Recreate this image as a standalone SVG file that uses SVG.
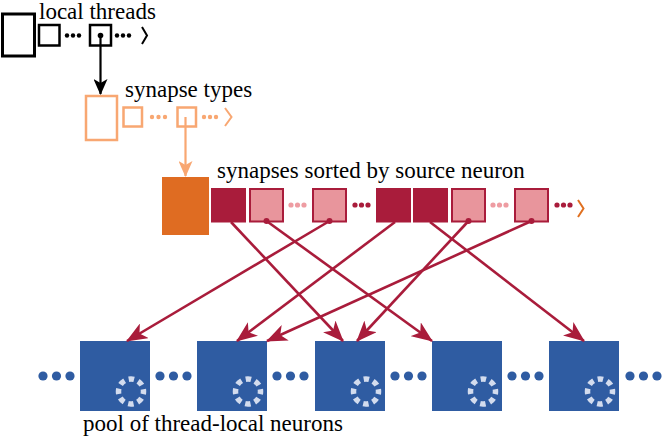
<svg xmlns="http://www.w3.org/2000/svg" width="662" height="440" viewBox="0 0 662 440">
<style>
  .blk { fill: #fff; stroke: #000; stroke-width: 2.5; }
  .org { fill: #fff; stroke: #F8A772; stroke-width: 2.5; }
  .dark { fill: #A91C3B; }
  .pink { fill: #E8959C; stroke: #A91C3B; stroke-width: 2; }
  .neuron { fill: #2F5CA2; }
  .ring { fill: none; stroke: #D3DCEE; stroke-width: 5.5; stroke-dasharray: 5.5 4.32; stroke-dashoffset: 2.75; }
  .bdot { fill: #2F5CA2; }
  .conn { stroke: #A91C3B; stroke-width: 2.6; fill: none; }
</style>
<defs>
  <marker id="ah" viewBox="0 0 21 17" markerWidth="21" markerHeight="17" refX="20" refY="8.5" orient="auto" markerUnits="userSpaceOnUse">
    <path d="M0,0 L21,8.5 L0,17 L5.5,8.5 z" fill="#A91C3B"/>
  </marker>
  <marker id="ahk" viewBox="0 0 16 14" markerWidth="16" markerHeight="14" refX="15" refY="7" orient="auto" markerUnits="userSpaceOnUse">
    <path d="M0,0 L16,7 L0,14 L4,7 z" fill="#000"/>
  </marker>
  <marker id="aho" viewBox="0 0 16 14" markerWidth="16" markerHeight="14" refX="15" refY="7" orient="auto" markerUnits="userSpaceOnUse">
    <path d="M0,0 L16,7 L0,14 L4,7 z" fill="#F8A772"/>
  </marker>
</defs>

<g font-family="Liberation Serif, DejaVu Serif, serif" font-size="23" fill="#000">
<g id="local-threads">
  <text x="39" y="19">local threads</text>
  <rect x="2.5" y="14" width="32" height="42" fill="#fff" stroke="#000" stroke-width="3"/>
  <rect class="blk" x="39" y="25" width="20.5" height="20.5"/>
  <circle cx="67" cy="35.5" r="2.2"/><circle cx="73" cy="35.5" r="2.2"/><circle cx="79" cy="35.5" r="2.2"/>
  <rect class="blk" x="90" y="25" width="21" height="20.5"/>
  <circle cx="100.5" cy="35.5" r="2.8"/>
  <circle cx="117" cy="35.5" r="2.2"/><circle cx="123" cy="35.5" r="2.2"/><circle cx="129" cy="35.5" r="2.2"/>
  <polyline points="142,27 147,35.5 142,44" fill="none" stroke="#000" stroke-width="2"/>
</g>

<g id="synapse-types">
  <text x="125" y="97">synapse types</text>
  <rect class="org" x="86" y="96" width="31" height="44"/>
  <rect class="org" x="123.5" y="107.5" width="18.5" height="19"/>
  <g fill="#F8A772">
    <circle cx="152" cy="117" r="2.2"/><circle cx="158.5" cy="117" r="2.2"/><circle cx="165" cy="117" r="2.2"/>
    <circle cx="185.5" cy="117" r="2.8"/>
    <circle cx="204" cy="117" r="2.2"/><circle cx="210" cy="117" r="2.2"/><circle cx="216" cy="117" r="2.2"/>
  </g>
  <rect class="org" x="177.5" y="107.5" width="18.5" height="19"/>
  <polyline points="225,108 231.5,117 225,126" fill="none" stroke="#F8A772" stroke-width="2"/>
</g>

<g id="synapses">
  <text x="217" y="178">synapses sorted by source neuron</text>
  <rect x="162" y="177" width="47" height="58" fill="#DF6C22"/>
  <rect class="dark" x="211" y="188" width="35" height="34.5"/>
  <rect class="pink" x="250" y="189" width="33" height="32.5"/>
  <g fill="#EE9CA2">
    <circle cx="291" cy="205" r="2.6"/><circle cx="297.5" cy="205" r="2.6"/><circle cx="304" cy="205" r="2.6"/>
    <circle cx="493" cy="205" r="2.6"/><circle cx="499.5" cy="205" r="2.6"/><circle cx="506" cy="205" r="2.6"/>
  </g>
  <rect class="pink" x="313" y="189" width="33" height="32.5"/>
  <g fill="#A91C3B">
    <circle cx="355" cy="205" r="2.6"/><circle cx="361.5" cy="205" r="2.6"/><circle cx="368" cy="205" r="2.6"/>
    <circle cx="557" cy="205" r="2.6"/><circle cx="563.5" cy="205" r="2.6"/><circle cx="570" cy="205" r="2.6"/>
  </g>
  <rect class="dark" x="376" y="188" width="35" height="34.5"/>
  <rect class="dark" x="413" y="188" width="35" height="34.5"/>
  <rect class="pink" x="452" y="189" width="33" height="32.5"/>
  <rect class="pink" x="515" y="189" width="33" height="32.5"/>
  <polyline points="578,200 583.5,208.5 578,217" fill="none" stroke="#E07020" stroke-width="2"/>
  <g fill="#A91C3B">
    <circle cx="266.5" cy="221" r="3"/><circle cx="329.5" cy="221" r="3"/>
    <circle cx="468.5" cy="221" r="3"/><circle cx="531.5" cy="221" r="3"/>
  </g>
</g>

<g id="neurons">
  <g class="bdot">
    <circle cx="43" cy="376" r="4.6"/><circle cx="56.5" cy="376" r="4.6"/><circle cx="70" cy="376" r="4.6"/>
    <circle cx="160" cy="376" r="4.6"/><circle cx="173.5" cy="376" r="4.6"/><circle cx="187" cy="376" r="4.6"/>
    <circle cx="277" cy="376" r="4.6"/><circle cx="290.5" cy="376" r="4.6"/><circle cx="304" cy="376" r="4.6"/>
    <circle cx="395" cy="376" r="4.6"/><circle cx="408.5" cy="376" r="4.6"/><circle cx="422" cy="376" r="4.6"/>
    <circle cx="512" cy="376" r="4.6"/><circle cx="525.5" cy="376" r="4.6"/><circle cx="539" cy="376" r="4.6"/>
    <circle cx="630" cy="376" r="4.6"/><circle cx="643.5" cy="376" r="4.6"/><circle cx="657" cy="376" r="4.6"/>
  </g>
  <g id="n1"><rect class="neuron" x="80" y="341" width="70" height="70"/><circle class="ring" cx="131" cy="391.5" r="12.5"/></g>
  <g id="n2"><rect class="neuron" x="197" y="341" width="70" height="70"/><circle class="ring" cx="248" cy="391.5" r="12.5"/></g>
  <g id="n3"><rect class="neuron" x="315" y="341" width="70" height="70"/><circle class="ring" cx="366" cy="391.5" r="12.5"/></g>
  <g id="n4"><rect class="neuron" x="432" y="341" width="70" height="70"/><circle class="ring" cx="483" cy="391.5" r="12.5"/></g>
  <g id="n5"><rect class="neuron" x="549" y="341" width="70" height="70"/><circle class="ring" cx="600" cy="391.5" r="12.5"/></g>
  <text x="83" y="431">pool of thread-local neurons</text>
</g>
</g>

<g id="connectors">
  <line x1="100.5" y1="35.5" x2="100.5" y2="94" stroke="#000" stroke-width="2.2" marker-end="url(#ahk)"/>
  <line x1="185.5" y1="117" x2="185.5" y2="176" stroke="#F8A772" stroke-width="2.2" marker-end="url(#aho)"/>
  <line class="conn" x1="231" y1="222" x2="343" y2="341" marker-end="url(#ah)"/>
  <line class="conn" x1="266.5" y1="221" x2="432" y2="341" marker-end="url(#ah)"/>
  <line class="conn" x1="329.5" y1="221" x2="127" y2="341" marker-end="url(#ah)"/>
  <line class="conn" x1="395" y1="222" x2="237" y2="341" marker-end="url(#ah)"/>
  <line class="conn" x1="430" y1="222" x2="584" y2="341" marker-end="url(#ah)"/>
  <line class="conn" x1="468.5" y1="221" x2="357" y2="341" marker-end="url(#ah)"/>
  <line class="conn" x1="531.5" y1="221" x2="267" y2="341" marker-end="url(#ah)"/>
</g>
</svg>
